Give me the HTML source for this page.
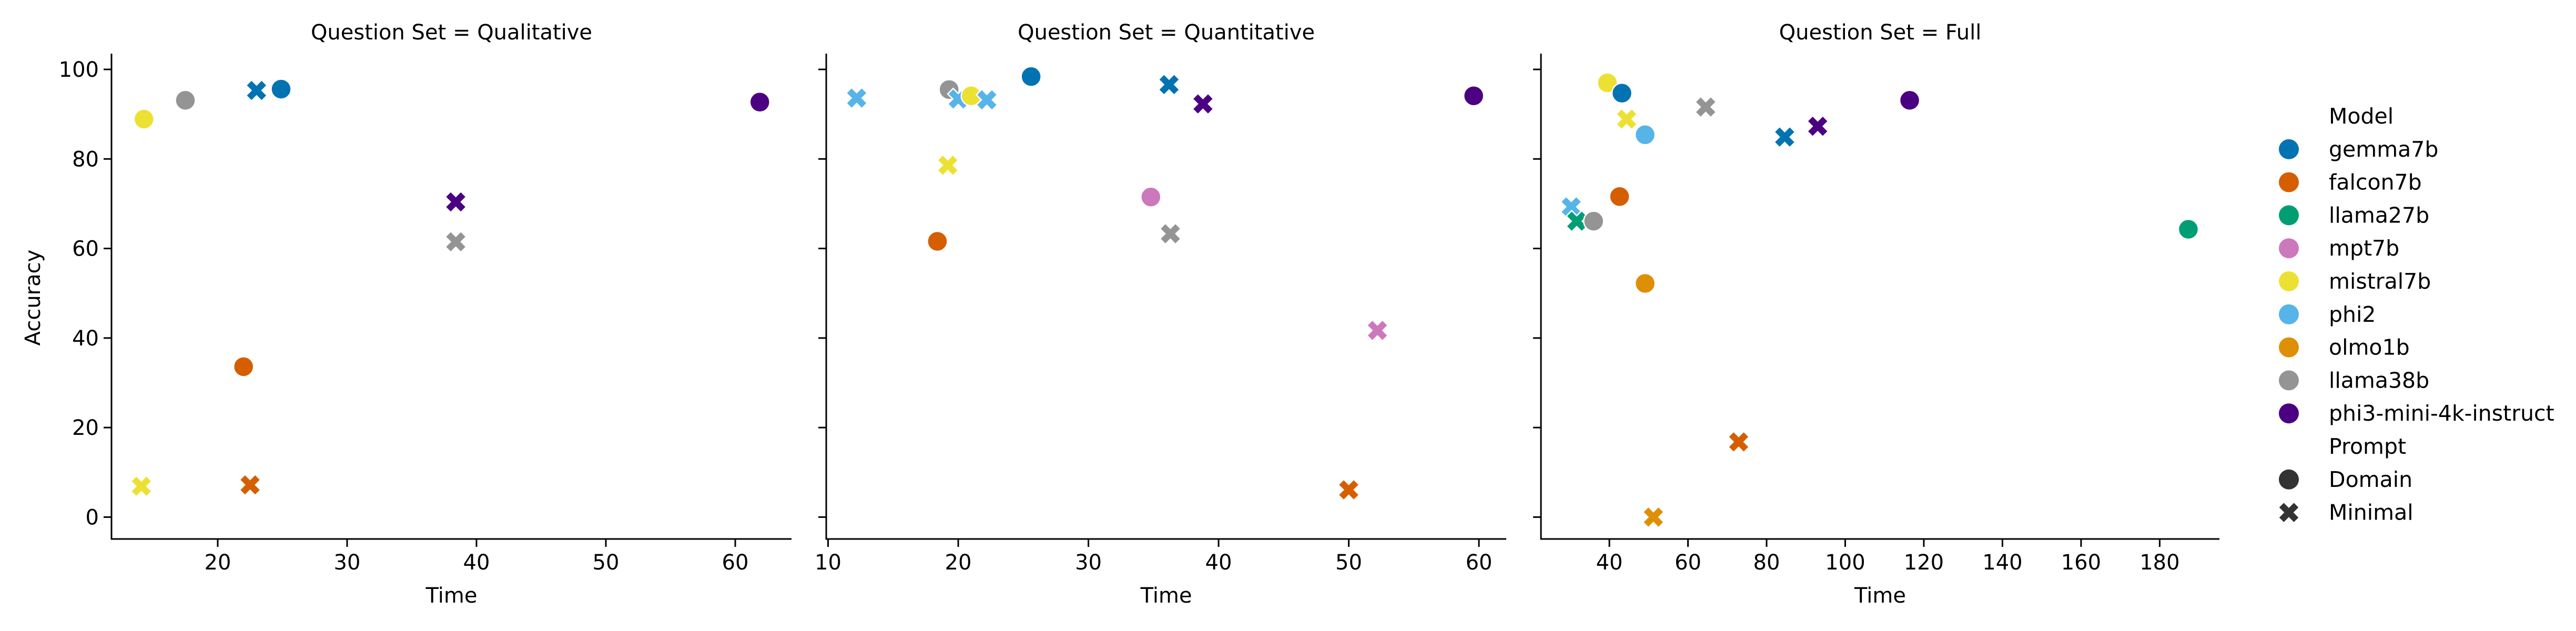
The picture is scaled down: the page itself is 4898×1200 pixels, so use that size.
<!DOCTYPE html>
<html><head><meta charset="utf-8"><style>
html,body{margin:0;padding:0;background:#fff;}
svg{display:block;}
text{font-family:"DejaVu Sans","Liberation Sans",sans-serif;fill:#000;}
</style></head><body>
<svg id="chart" width="4898" height="1200" viewBox="0 0 4898 1200" xmlns="http://www.w3.org/2000/svg"></svg>
<script>
const models = ["gemma7b","falcon7b","llama27b","mpt7b","mistral7b","phi2","olmo1b","llama38b","phi3-mini-4k-instruct"];
const modelColors = ["#0173b2","#d55e00","#029e73","#cc78bc","#ece133","#56b4e9","#de8f05","#949494","#4b0082"];
const panelTitles = ["Question Set = Qualitative","Question Set = Quantitative","Question Set = Full"];
const yTicks = [0,20,40,60,80,100];
const xTicks1 = [20,30,40,50,60];
const xTicks2 = [10,20,30,40,50,60];
const xTicks3 = [40,60,80,100,120,140,160,180];
// [model, prompt(0=Domain,1=Minimal), time, accuracy]
const qualModel = ["mistral7b","llama38b","gemma7b","gemma7b","phi3-mini-4k-instruct","phi3-mini-4k-instruct","llama38b","falcon7b","mistral7b","falcon7b"];
const qualPrompt = [0,0,1,0,0,1,1,0,1,1];
const qualTime = [14.3,17.5,23.0,24.9,61.9,38.4,38.4,22.0,14.1,22.5];
const qualAcc = [88.9,93.1,95.3,95.6,92.7,70.4,61.5,33.6,6.9,7.2];
const quantModel = ["phi2","llama38b","phi2","mistral7b","phi2","gemma7b","gemma7b","phi3-mini-4k-instruct","phi3-mini-4k-instruct","mistral7b","mpt7b","falcon7b","llama38b","mpt7b","falcon7b"];
const quantPrompt = [1,0,1,0,1,0,1,1,0,1,0,0,1,1,1];
const quantTime = [12.2,19.3,20.0,21.0,22.2,25.6,36.2,38.8,59.6,19.2,34.8,18.4,36.3,52.2,50.0];
const quantAcc = [93.6,95.5,93.4,94.1,93.2,98.4,96.6,92.3,94.1,78.6,71.5,61.6,63.3,41.7,6.1];
const fullModel = ["mistral7b","gemma7b","mistral7b","phi2","llama38b","gemma7b","phi3-mini-4k-instruct","phi3-mini-4k-instruct","falcon7b","phi2","llama27b","llama38b","llama27b","olmo1b","falcon7b","olmo1b"];
const fullPrompt = [0,0,1,0,1,1,1,0,0,1,1,0,0,0,1,1];
const fullTime = [39.5,43.2,44.4,49.1,64.5,84.6,93.0,116.4,42.6,30.3,31.7,36.0,187.3,49.1,72.9,51.2];
const fullAcc = [97.0,94.7,88.9,85.4,91.6,84.9,87.3,93.1,71.6,69.3,66.1,66.1,64.3,52.2,16.8,0.0];

const NS="http://www.w3.org/2000/svg";
const svg=document.getElementById('chart');
function mk(tag,attrs,parent){const e=document.createElementNS(NS,tag);for(const k in attrs)e.setAttribute(k,attrs[k]);(parent||svg).appendChild(e);return e;}

const panels=[
 {x0:212,x1:1505,xmin:11.79,xmax:64.35,ticks:xTicks1,title:panelTitles[0],m:qualModel,p:qualPrompt,t:qualTime,a:qualAcc,ylabels:true,name:'qualitative'},
 {x0:1571,x1:2864,xmin:9.86,xmax:62.1,ticks:xTicks2,title:panelTitles[1],m:quantModel,p:quantPrompt,t:quantTime,a:quantAcc,ylabels:false,name:'quantitative'},
 {x0:2930,x1:4220,xmin:22.6,xmax:195.2,ticks:xTicks3,title:panelTitles[2],m:fullModel,p:fullPrompt,t:fullTime,a:fullAcc,ylabels:false,name:'full'}
];
const yTop=102,yBot=1025;
function yScale(v){return 983.4-(v)*8.514;}
function xMarker(g,cx,cy,col,s){
 const a=s*0.5,b=s*0.26;
 const pts=[[-a,-a+b],[-a+b,-a],[0,-b],[a-b,-a],[a,-a+b],[b,0],[a,a-b],[a-b,a],[0,b],[-a+b,a],[-a,a-b],[-b,0]];
 return mk('polygon',{points:pts.map(p=>(cx+p[0]).toFixed(1)+','+(cy+p[1]).toFixed(1)).join(' '),fill:col,stroke:'#fff','stroke-width':2.5},g);
}
panels.forEach((P)=>{
 const g=mk('g',{});
 
 
 const xs=v=>P.x0+(v-P.xmin)/(P.xmax-P.xmin)*(P.x1-P.x0);
 const tt=mk('text',{x:(P.x0+P.x1)/2,y:75,'text-anchor':'middle','font-size':40},g);tt.textContent=P.title;
 
 
 const ax=mk('path',{d:`M${P.x0},${yTop} V${yBot} H${P.x1}`,fill:'none',stroke:'#000','stroke-width':3},g);
 
 
 yTicks.forEach(v=>{const y=yScale(v);
  mk('line',{x1:P.x0-15,x2:P.x0,y1:y,y2:y,stroke:'#000','stroke-width':3},g);
  if(P.ylabels){const t=mk('text',{x:P.x0-24,y:y+14,'text-anchor':'end','font-size':40},g);t.textContent=v;
   
   }
 });
 P.ticks.forEach(v=>{const x=xs(v);
  mk('line',{x1:x,x2:x,y1:yBot,y2:yBot+15,stroke:'#000','stroke-width':3},g);
  const t=mk('text',{x:x,y:yBot+58,'text-anchor':'middle','font-size':40},g);t.textContent=v;
  
  
 });
 const xl=mk('text',{x:(P.x0+P.x1)/2,y:1146,'text-anchor':'middle','font-size':40},g);xl.textContent='Time';
 
 
 for(let i=0;i<P.t.length;i++){
  const col=modelColors[models.indexOf(P.m[i])];
  const cx=xs(P.t[i]),cy=yScale(P.a[i]);
  let e;
  if(P.p[i]===0){e=mk('circle',{cx:cx,cy:cy,r:19,fill:col,stroke:'#fff','stroke-width':2.5},g);}
  else{e=xMarker(g,cx,cy,col,40);}
  
  
 }
});
const yl=mk('text',{x:0,y:0,'text-anchor':'middle','font-size':40,transform:'translate(76,566) rotate(-90)'});yl.textContent='Accuracy';


// legend
const lg=mk('g',{});


const rowY=i=>221+i*62.8;
const lt=mk('text',{x:4428,y:rowY(0)+14,'font-size':41},lg);lt.textContent='Model';
models.forEach((m,i)=>{const y=rowY(i+1);
 const c=mk('circle',{cx:4352,cy:y,r:19,fill:modelColors[i]},lg);
 
 
 const t=mk('text',{x:4428,y:y+14,'font-size':41},lg);t.textContent=m;
 
 
});
const pt=mk('text',{x:4428,y:rowY(10)+14,'font-size':41},lg);pt.textContent='Prompt';
const dc=mk('circle',{cx:4352,cy:rowY(11),r:19,fill:'#333'},lg);
const dt=mk('text',{x:4428,y:rowY(11)+14,'font-size':41},lg);dt.textContent='Domain';


xMarker(lg,4352,rowY(12),'#333',40);
const mt=mk('text',{x:4428,y:rowY(12)+14,'font-size':41},lg);mt.textContent='Minimal';


</script>
</body></html>
